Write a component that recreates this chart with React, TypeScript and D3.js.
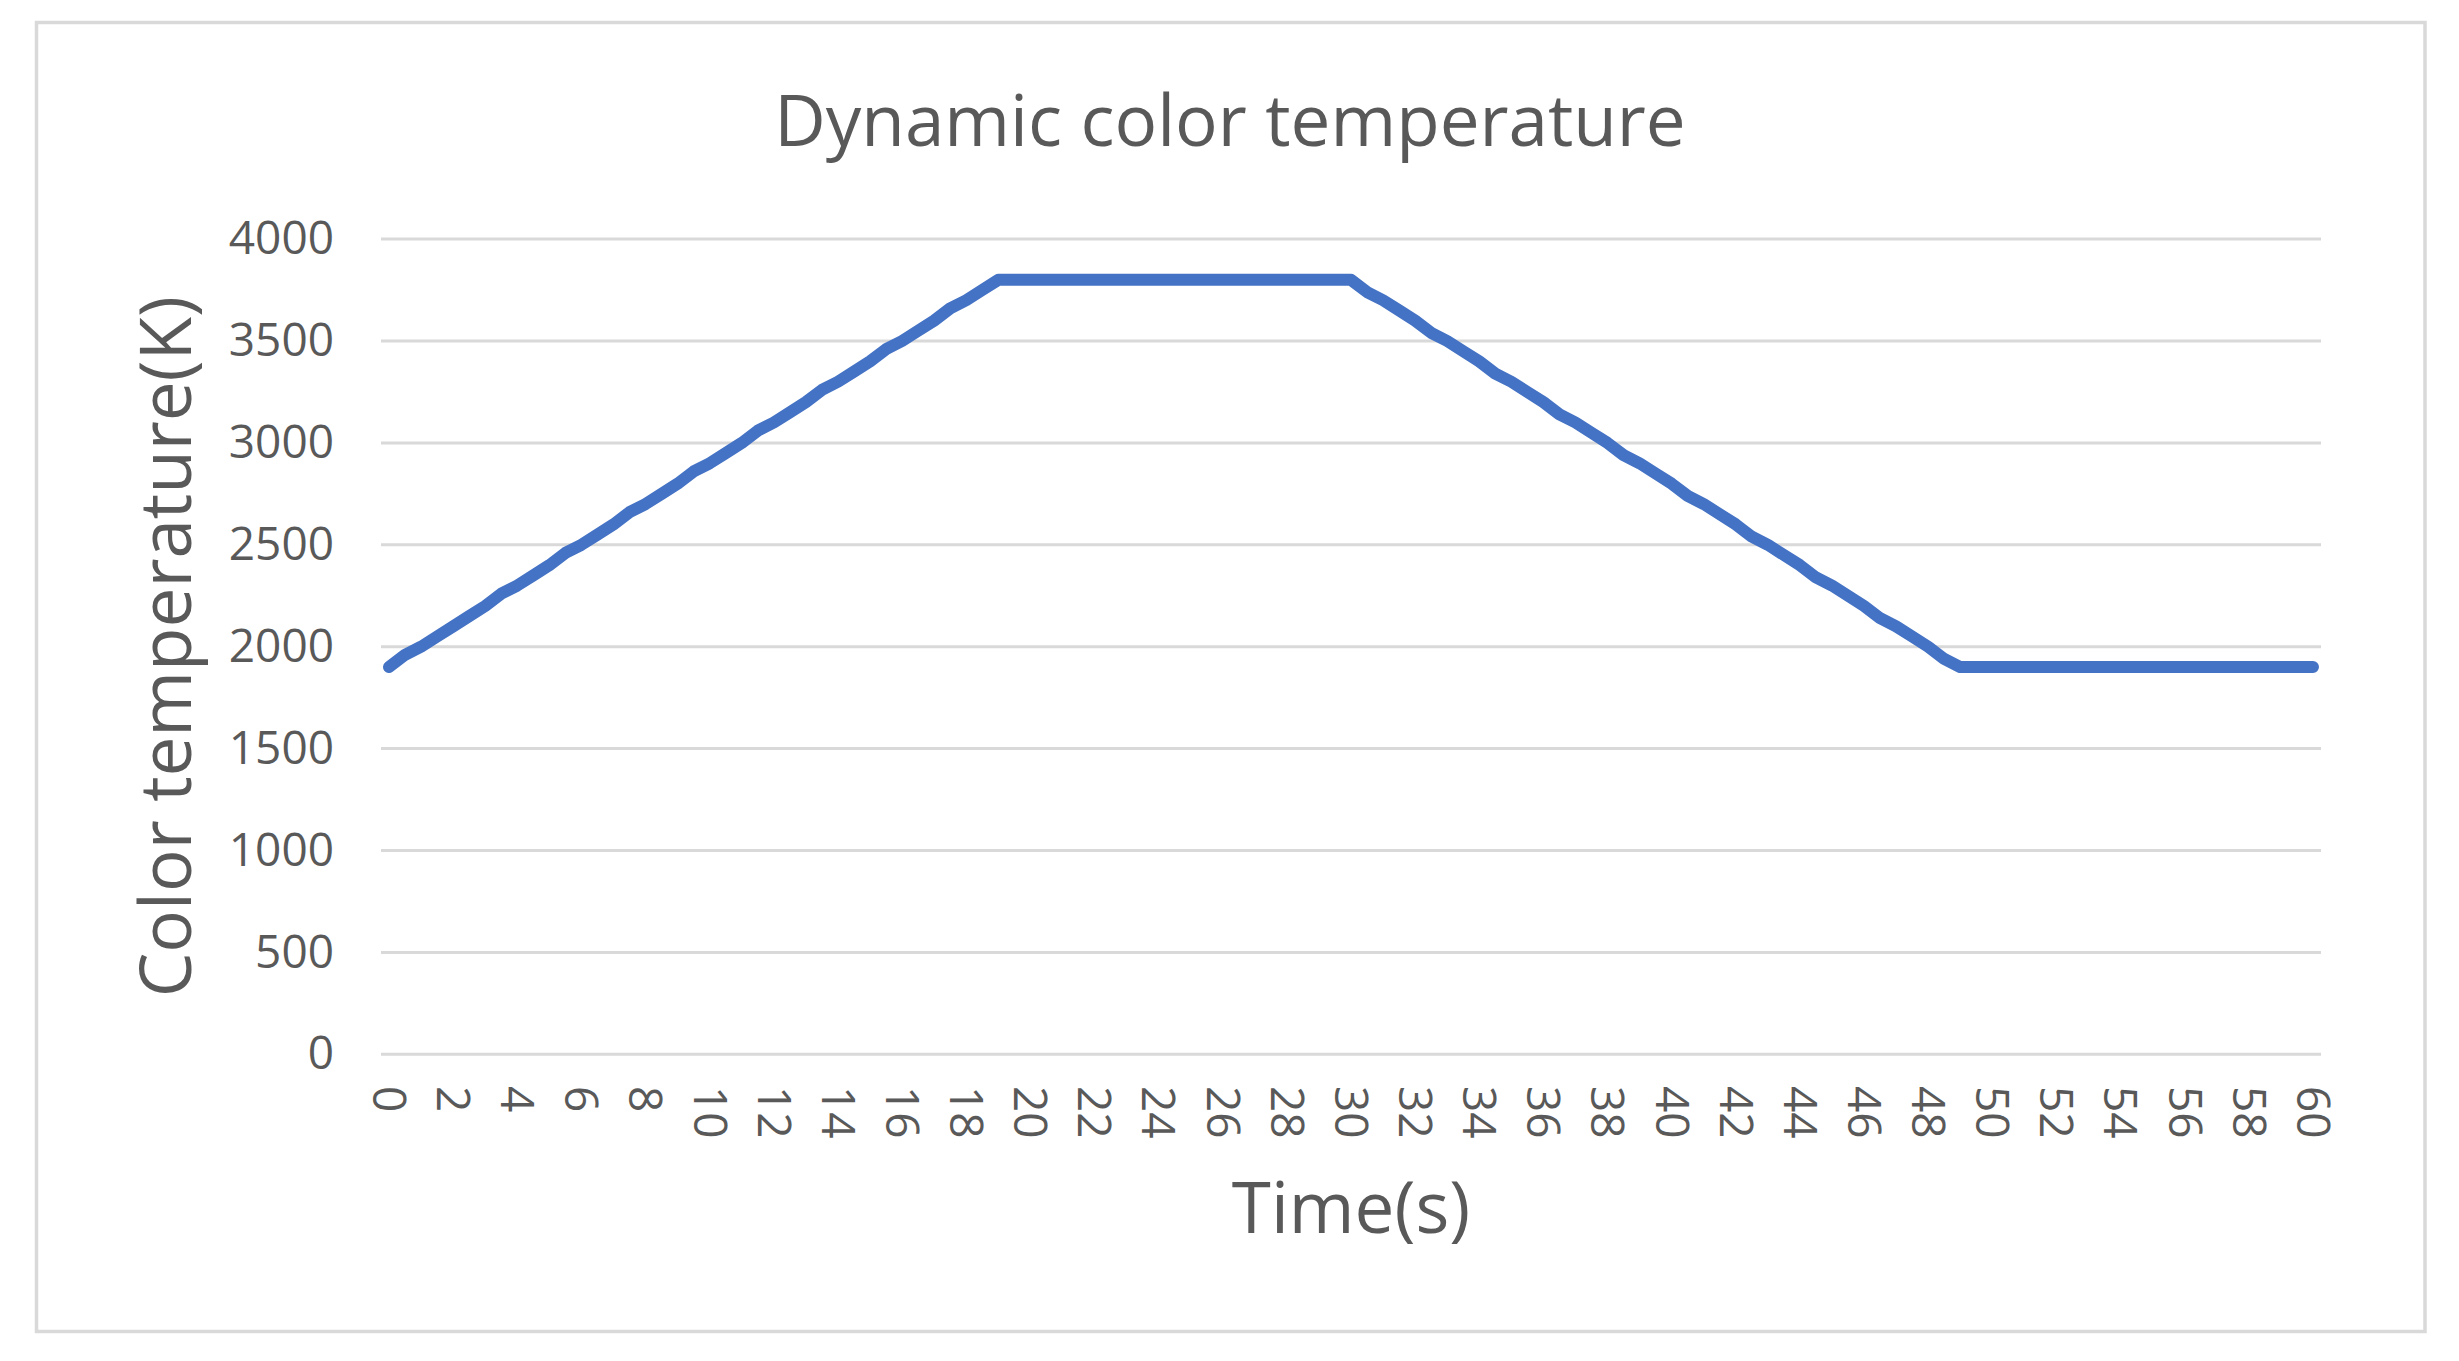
import React from 'react';
import * as d3 from 'd3';

const times = [
  0, 0.5, 1, 1.5, 2, 2.5, 3, 3.5, 4, 4.5, 5, 5.5, 6, 6.5, 7, 7.5, 8, 8.5, 9, 9.5,
  10, 10.5, 11, 11.5, 12, 12.5, 13, 13.5, 14, 14.5, 15, 15.5, 16, 16.5, 17, 17.5, 18, 18.5, 19, 19.5,
  20, 20.5, 21, 21.5, 22, 22.5, 23, 23.5, 24, 24.5, 25, 25.5, 26, 26.5, 27, 27.5, 28, 28.5, 29, 29.5,
  30, 30.5, 31, 31.5, 32, 32.5, 33, 33.5, 34, 34.5, 35, 35.5, 36, 36.5, 37, 37.5, 38, 38.5, 39, 39.5,
  40, 40.5, 41, 41.5, 42, 42.5, 43, 43.5, 44, 44.5, 45, 45.5, 46, 46.5, 47, 47.5, 48, 48.5, 49, 49.5,
  50, 50.5, 51, 51.5, 52, 52.5, 53, 53.5, 54, 54.5, 55, 55.5, 56, 56.5, 57, 57.5, 58, 58.5, 59, 59.5,
  60,
];

const temps = [
  1900, 1960, 2000, 2050, 2100, 2150, 2200, 2260, 2300, 2350, 2400, 2460, 2500, 2550, 2600, 2660, 2700, 2750, 2800, 2860,
  2900, 2950, 3000, 3060, 3100, 3150, 3200, 3260, 3300, 3350, 3400, 3460, 3500, 3550, 3600, 3660, 3700, 3750, 3800, 3800,
  3800, 3800, 3800, 3800, 3800, 3800, 3800, 3800, 3800, 3800, 3800, 3800, 3800, 3800, 3800, 3800, 3800, 3800, 3800, 3800,
  3800, 3740, 3700, 3650, 3600, 3540, 3500, 3450, 3400, 3340, 3300, 3250, 3200, 3140, 3100, 3050, 3000, 2940, 2900, 2850,
  2800, 2740, 2700, 2650, 2600, 2540, 2500, 2450, 2400, 2340, 2300, 2250, 2200, 2140, 2100, 2050, 2000, 1940, 1900, 1900,
  1900, 1900, 1900, 1900, 1900, 1900, 1900, 1900, 1900, 1900, 1900, 1900, 1900, 1900, 1900, 1900, 1900, 1900, 1900, 1900,
  1900,
];

const yTicks = [0, 500, 1000, 1500, 2000, 2500, 3000, 3500, 4000];
const xTickLabels = [0, 2, 4, 6, 8, 10, 12, 14, 16, 18, 20, 22, 24, 26, 28, 30, 32, 34, 36, 38, 40, 42, 44, 46, 48, 50, 52, 54, 56, 58, 60];

const chartTitle = 'Dynamic color temperature';
const xTitle = 'Time(s)';
const yTitle = 'Color temperature(K)';

const FONT = '"Open Sans", "Segoe UI", "Noto Sans", sans-serif';
const TEXT = '#595959';
const GRID = '#d9d9d9';
const LINE = '#4472C4';

export default function App() {
  const W = 2459;
  const H = 1361;
  const plotLeft = 381;
  const plotRight = 2321;
  const plotTop = 239.1;
  const plotBottom = 1054.3;

  const x = d3.scaleLinear().domain([-0.25, 60.25]).range([plotLeft, plotRight]);
  const y = d3.scaleLinear().domain([0, 4000]).range([plotBottom, plotTop]);

  const data = times.map((t, i) => [t, temps[i]] as [number, number]);
  const line = d3
    .line<[number, number]>()
    .x((d) => x(d[0]))
    .y((d) => y(d[1]));

  return (
    <svg
      width={W}
      height={H}
      style={{ position: 'absolute', left: 0, top: 0, background: '#fff' }}
      fontFamily={FONT}
    >
      <rect x={0} y={0} width={W} height={H} fill="#fff" />
      <rect x={36.5} y={22.5} width={2388.5} height={1309} fill="#fff" stroke={GRID} strokeWidth={3.5} />

      <text x={1230} y={146} textAnchor="middle" fontSize={71} fill={TEXT}>
        {chartTitle}
      </text>

      {yTicks.map((v) => (
        <g key={v}>
          <line x1={plotLeft} x2={plotRight} y1={y(v)} y2={y(v)} stroke={GRID} strokeWidth={3} />
          <text x={334} y={y(v)} dy="0.33em" textAnchor="end" fontSize={46} fill={TEXT}>
            {v}
          </text>
        </g>
      ))}

      {xTickLabels.map((v) => (
        <text
          key={v}
          transform={`translate(${x(v)},1086) rotate(90)`}
          dy="0.35em"
          textAnchor="start"
          fontSize={46}
          fill={TEXT}
        >
          {v}
        </text>
      ))}

      <text x={(plotLeft + plotRight) / 2} y={1233} textAnchor="middle" fontSize={71} fill={TEXT}>
        {xTitle}
      </text>

      <text
        transform={`translate(191,${(plotTop + plotBottom) / 2}) rotate(-90)`}
        textAnchor="middle"
        fontSize={71}
        fill={TEXT}
      >
        {yTitle}
      </text>

      <path
        d={line(data) || ''}
        fill="none"
        stroke={LINE}
        strokeWidth={12}
        strokeLinejoin="round"
        strokeLinecap="round"
      />
    </svg>
  );
}
